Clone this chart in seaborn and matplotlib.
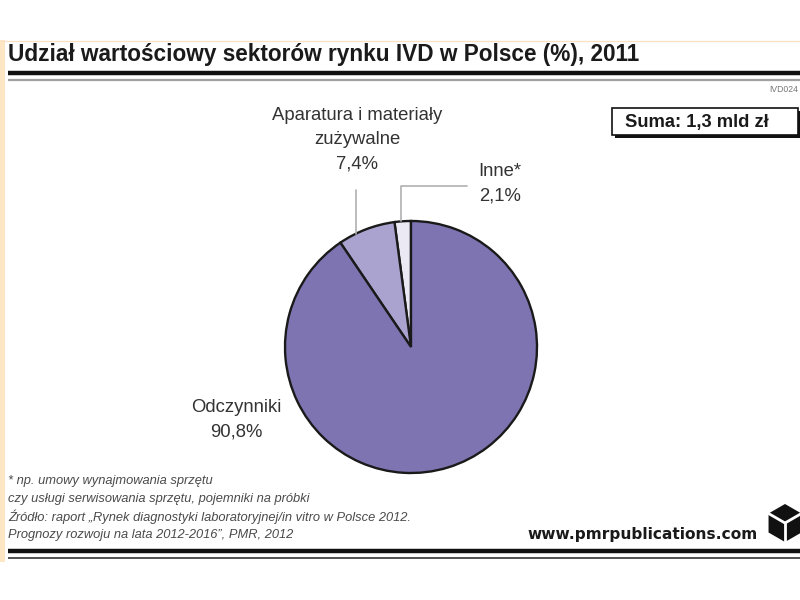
import matplotlib
matplotlib.use("Agg")
import matplotlib.pyplot as plt
import seaborn as sns
import numpy as np
from matplotlib.patches import Rectangle, Polygon

sns.set_theme(style="white")
plt.rcParams['font.family'] = ['Liberation Sans', 'DejaVu Sans']

# data
categories = ["Inne*", "Aparatura i materiały\nzużywalne", "Odczynniki"]
values = [2.1, 7.4, 90.8]
value_labels = ["2,1%", "7,4%", "90,8%"]
colors = ["#ebe9f4", "#aaa3d0", "#7f74b2"]

title = "Udział wartościowy sektorów rynku IVD w Polsce (%), 2011"
footnotes = ["* np. umowy wynajmowania sprzętu",
             "czy usługi serwisowania sprzętu, pojemniki na próbki",
             "Źródło: raport „Rynek diagnostyki laboratoryjnej/in vitro w Polsce 2012.",
             "Prognozy rozwoju na lata 2012-2016”, PMR, 2012"]
total_label = "Suma: 1,3 mld zł"

fig = plt.figure(figsize=(8, 6), dpi=100)

# overlay in pixel coordinates
ov = fig.add_axes([0, 0, 1, 1], zorder=0)
ov.set_xlim(0, 800)
ov.set_ylim(600, 0)
ov.axis("off")

# left orange strip and top thin line
ov.add_patch(Rectangle((0, 40), 5, 522, color="#fde6c4", lw=0))
ov.plot([0, 800], [41, 41], color="#fbe2c6", lw=1)

ov.text(8, 55, title, fontsize=16.3, fontweight="bold", color="#1a1a1a",
        va="center", ha="left")
ov.plot([8, 800], [73, 73], color="#111111", lw=3.2, solid_capstyle="butt")
ov.plot([8, 800], [79.5, 79.5], color="#a0a0a0", lw=1.6, solid_capstyle="butt")

ov.text(798, 90, "IVD024", fontsize=6.2, color="#777777", va="center", ha="right")

# total box with shadow
ov.add_patch(Rectangle((615, 111), 186, 27, color="#111111", lw=0))
ov.add_patch(Rectangle((612, 108), 186, 27, facecolor="white", edgecolor="#111111", lw=1.2))
ov.text(625, 122, total_label, fontsize=13.2, fontweight="bold", color="#1a1a1a",
        va="center", ha="left")

# footnotes
ys = [481, 499, 517, 535]
for y, t in zip(ys, footnotes):
    ov.text(8, y, t, fontsize=9.27, style="italic", color="#4a4a4a", va="center", ha="left")

ov.plot([8, 800], [551, 551], color="#111111", lw=3.2, solid_capstyle="butt")
ov.plot([8, 800], [557.5, 557.5], color="#333333", lw=1.2, solid_capstyle="butt")

ov.text(758, 534, "www.pmrpublications.com", fontsize=11.1, fontweight="bold",
        color="#1a1a1a", va="center", ha="right", family=["DejaVu Sans"])
# cube logo
cx, cy, r = 785, 523, 19
hexpts = [(cx + r * np.cos(np.radians(a)), cy - r * np.sin(np.radians(a)))
          for a in [90, 30, -30, -90, -150, 150]]
ov.add_patch(Polygon(hexpts, closed=True, color="#111111", lw=0))
for a in [30, 150, -90]:
    ov.plot([cx, cx + r * np.cos(np.radians(a))], [cy, cy - r * np.sin(np.radians(a))],
            color="white", lw=2)

# pie
pc = (411, 347)
R = 126
pax = fig.add_axes([(pc[0] - R) / 800, 1 - (pc[1] + R) / 600, 2 * R / 800, 2 * R / 600], zorder=1)
wedges, _ = pax.pie(values, colors=colors, startangle=90, counterclock=True,
                    radius=1, wedgeprops=dict(edgecolor="#1a1a1a", linewidth=1.7))
pax.set_xlim(-1, 1)
pax.set_ylim(-1, 1)
pax.set_aspect("equal")
pax.axis("off")

lab_kw = dict(fontsize=13.3, color="#333333", ha="center", va="center", linespacing=1.55)
# leader lines (pie data coords)
lc = "#b0b0b0"
xa = (356 - pc[0]) / R
pax.plot([xa, xa], [np.sqrt(1 - xa ** 2), (pc[1] - 190) / R], color=lc, lw=1.2, clip_on=False)
xi = (401 - pc[0]) / R
yi = (pc[1] - 186) / R
pax.plot([xi, xi, (467 - pc[0]) / R], [np.sqrt(1 - xi ** 2), yi, yi], color=lc, lw=1.2, clip_on=False)

ov.text(357, 140, categories[1] + "\n" + value_labels[1], **lab_kw)
ov.text(500, 183.5, categories[0] + "\n" + value_labels[0], **lab_kw)
ov.text(236, 420, categories[2] + "\n" + value_labels[2], **lab_kw)

fig.savefig("out.png", dpi=100, facecolor="white")
